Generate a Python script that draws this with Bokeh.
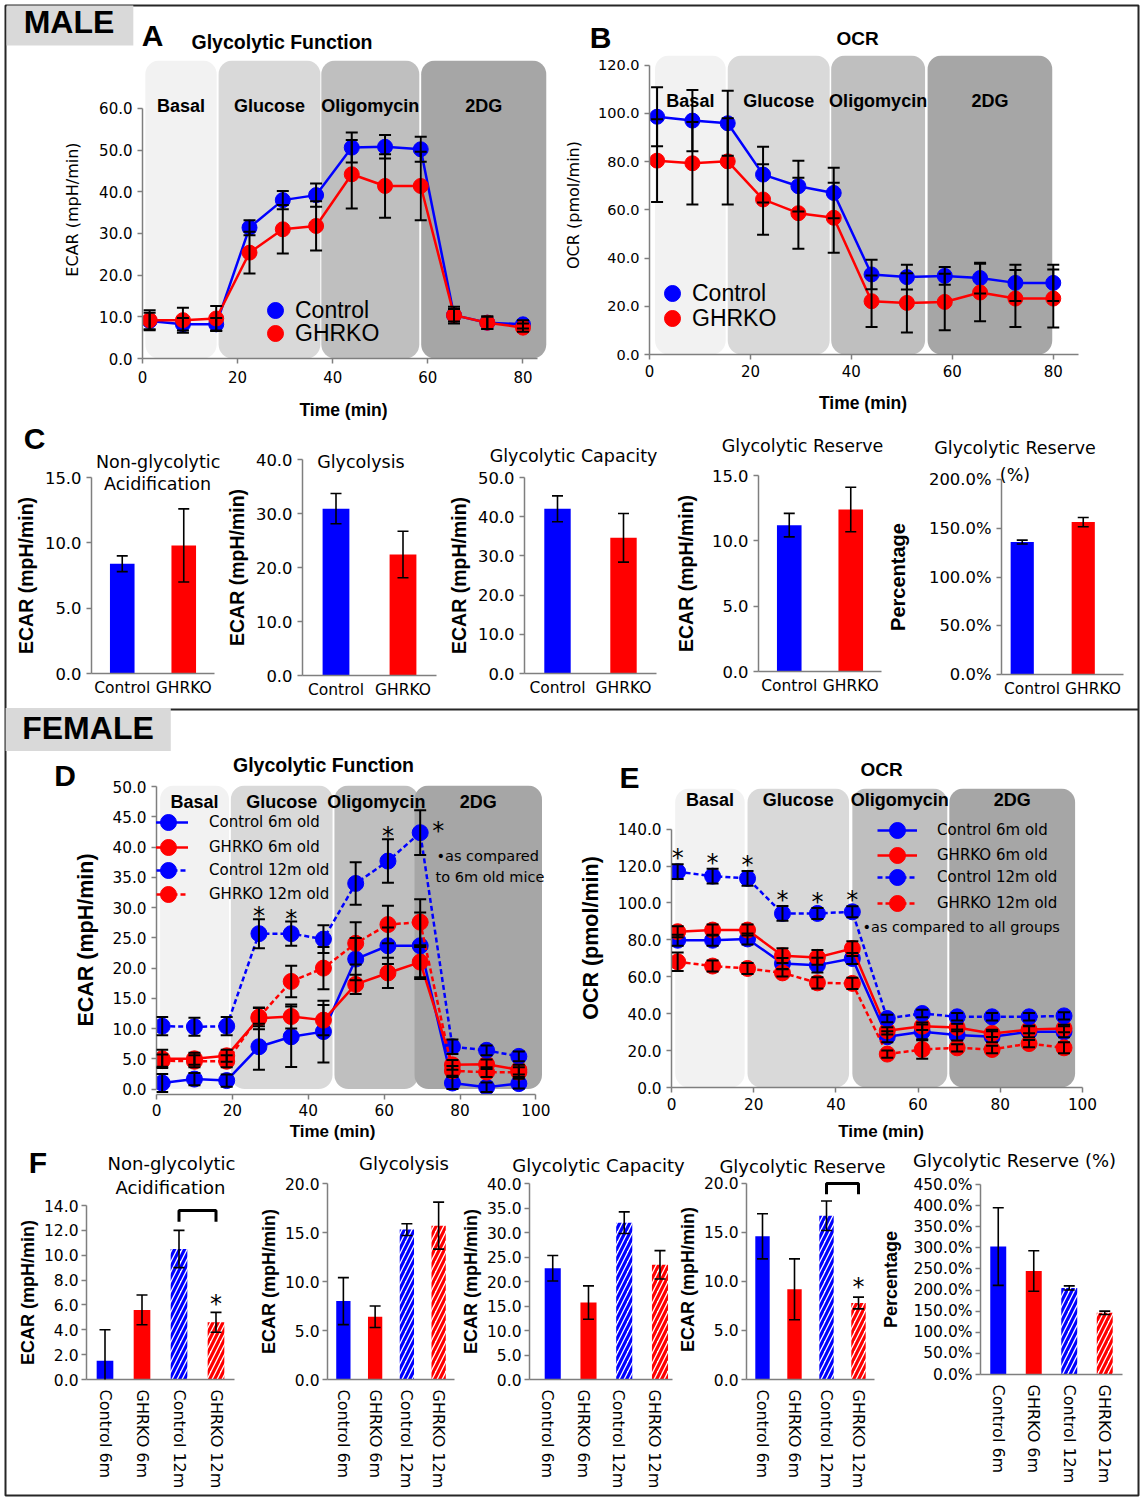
from bokeh.plotting import figure
from bokeh.layouts import row, column
from bokeh.models import (ColumnDataSource, Whisker, TeeHead, Label, Legend, LegendItem,
                          FactorRange, Range1d, FixedTicker, NumeralTickFormatter,
                          PrintfTickFormatter, Span)
from bokeh.transform import dodge
from bokeh.core.properties import value
from bokeh.embed import file_html
from bokeh.resources import INLINE

# ---------------- data ----------------
phases = ["Basal", "Glucose", "Oligomycin", "2DG"]

# MALE  - panel A (ECAR) and B (OCR)
male_time = [1.5, 8.5, 15.5, 22.5, 29.5, 36.5, 44.0, 51.0, 58.5, 65.5, 72.5, 80.0]
male_ecar_control = [9.0, 8.2, 8.2, 31.4, 38.0, 39.2, 50.6, 50.8, 50.2, 10.4, 8.6, 8.2]
male_ecar_control_err = [2.0, 1.5, 1.5, 1.8, 2.2, 2.8, 3.6, 2.8, 3.0, 1.5, 1.5, 1.0]
male_ecar_ghrko = [9.2, 9.2, 9.6, 25.4, 31.0, 31.8, 44.2, 41.4, 41.4, 10.4, 8.6, 7.4]
male_ecar_ghrko_err = [2.4, 3.0, 3.0, 5.0, 5.8, 5.9, 8.2, 7.6, 8.2, 2.0, 1.5, 1.0]
male_ocr_control = [98.6, 97.0, 95.9, 74.6, 69.8, 67.0, 33.2, 32.1, 32.6, 31.7, 29.7, 29.7]
male_ocr_control_err = [12.2, 12.7, 13.5, 11.6, 10.5, 10.5, 6.1, 5.1, 3.7, 6.4, 7.5, 7.5]
male_ocr_ghrko = [80.4, 79.3, 80.1, 64.3, 58.6, 56.7, 22.1, 21.4, 21.8, 25.7, 23.2, 23.2]
male_ocr_ghrko_err = [17.2, 17.1, 17.9, 14.6, 14.7, 14.5, 10.7, 12.3, 11.7, 11.9, 11.8, 12.0]
male_ecar_phase_start = [0.6, 16.0, 37.6, 58.6]
male_ecar_phase_end = [15.6, 37.4, 58.2, 84.9]
male_ocr_phase_start = [1.1, 15.5, 36.0, 55.1]
male_ocr_phase_end = [15.1, 35.7, 54.6, 79.8]

# MALE - panel C
c_groups = ["Control", "GHRKO"]
c_nonglyco = [8.4, 9.8]
c_nonglyco_err = [0.6, 2.8]
c_glycolysis = [30.9, 22.4]
c_glycolysis_err = [2.8, 4.3]
c_capacity = [42.0, 34.6]
c_capacity_err = [3.3, 6.2]
c_reserve = [11.2, 12.4]
c_reserve_err = [0.9, 1.7]
c_reserve_pct = [135.8, 156.3]
c_reserve_pct_err = [2.0, 4.7]

# FEMALE - panel D (ECAR) and E (OCR)
female_time = [1.5, 10.0, 18.5, 27.0, 35.5, 44.0, 52.5, 61.0, 69.5, 78.0, 87.0, 95.5]
fe_ctrl6 = [1.0, 1.65, 1.4, 7.0, 8.65, 9.5, 21.5, 23.7, 23.7, 1.0, 0.3, 0.9]
fe_ctrl6_err = [1.5, 1.0, 1.0, 3.8, 5.0, 5.1, 3.5, 3.0, 5.5, 1.0, 0.8, 0.8]
fe_ghrko6 = [5.0, 5.0, 5.5, 11.7, 12.0, 11.4, 17.3, 19.2, 21.0, 4.0, 4.1, 3.2]
fe_ghrko6_err = [1.5, 1.0, 1.0, 1.8, 2.0, 2.5, 1.6, 2.5, 2.5, 0.8, 0.8, 0.8]
fe_ctrl12 = [10.4, 10.3, 10.4, 25.7, 25.7, 24.8, 34.0, 37.7, 42.4, 7.0, 6.4, 5.4]
fe_ctrl12_err = [1.5, 1.5, 1.5, 2.4, 2.0, 2.3, 3.5, 3.6, 3.7, 1.2, 0.8, 0.8]
fe_ghrko12 = [4.7, 4.6, 4.6, 11.9, 17.8, 20.0, 24.1, 27.2, 27.6, 3.0, 2.8, 2.8]
fe_ghrko12_err = [1.0, 1.0, 1.0, 1.5, 2.6, 3.5, 3.5, 3.1, 3.8, 0.8, 0.8, 0.8]
fe_ctrl12_star_above = [3, 4, 7]
fe_ctrl12_star_right = [8]

fo_ctrl6 = [79.8, 79.8, 80.5, 67.2, 66.3, 69.9, 27.5, 30.2, 28.4, 27.5, 30.2, 30.2]
fo_ctrl6_err = [3, 3, 3, 3, 4, 3, 3, 4, 3, 3, 3, 3]
fo_ghrko6 = [84.4, 85.3, 85.3, 71.4, 70.5, 75.3, 30.7, 33.2, 32.5, 29.3, 31.4, 32.0]
fo_ghrko6_err = [3, 3, 3, 4, 4, 4, 2, 2, 2, 2, 2, 2]
fo_ctrl12 = [116.9, 114.5, 113.3, 94.3, 94.3, 95.2, 37.4, 40.1, 38.3, 38.3, 38.3, 38.8]
fo_ctrl12_err = [4, 4, 4, 4, 3, 3, 2, 2, 2, 2, 2, 2]
fo_ghrko12 = [68.1, 65.8, 64.5, 62.1, 56.7, 56.4, 18.1, 20.6, 21.5, 20.6, 23.8, 21.5]
fo_ghrko12_err = [5, 3, 3, 2, 3, 3, 2, 5, 2, 2, 2, 3]
fo_ctrl12_star_above = [0, 1, 2, 3, 4, 5]

female_ecar_phase_start = [0.95, 19.6, 46.9, 68.0]
female_ecar_phase_end = [19.1, 46.4, 69.0, 101.6]
female_ocr_phase_start = [0.9, 18.5, 44.0, 67.6]
female_ocr_phase_end = [17.8, 43.2, 67.1, 98.2]

# FEMALE - panel F
f_groups = ["Control 6m", "GHRKO 6m", "Control 12m", "GHRKO 12m"]
f_nonglyco = [1.5, 5.6, 10.5, 4.6]
f_nonglyco_err = [2.5, 1.2, 1.5, 0.8]
f_glycolysis = [8.0, 6.4, 15.3, 15.7]
f_glycolysis_err = [2.4, 1.1, 0.6, 2.4]
f_capacity = [22.7, 15.7, 32.0, 23.4]
f_capacity_err = [2.6, 3.4, 2.2, 2.9]
f_reserve = [14.6, 9.2, 16.7, 7.8]
f_reserve_err = [2.3, 3.1, 1.5, 0.6]
f_reserve_pct = [303.0, 245.0, 205.0, 146.0]
f_reserve_pct_err = [92.0, 48.0, 5.0, 4.0]

# ---------------- style ----------------
SANS = "DejaVu Sans"
ARIAL = "Liberation Sans"
BLUE = "#0000ff"
RED = "#ff0000"
AXIS = "#7f7f7f"
FRAME = "#262626"
PHASE_FILL = ["#f2f2f2", "#d9d9d9", "#bfbfbf", "#a6a6a6"]
C_COLORS = [BLUE, RED]
C_PATTERNS = [" ", " "]
F_COLORS = [BLUE, RED, BLUE, RED]
F_PATTERNS = [" ", " ", "/", "/"]


def make_fig(w, h, l, r, t, b, xr, yr):
    p = figure(width=w, height=h, x_range=xr, y_range=yr, output_backend="svg",
               toolbar_location=None, tools="", frame_align=False,
               min_border_left=l, min_border_right=r, min_border_top=t, min_border_bottom=b)
    p.outline_line_color = None
    p.xgrid.visible = False
    p.ygrid.visible = False
    p.background_fill_color = "white"
    p.border_fill_color = "white"
    return p


def style_axis(ax, tick_px, label_px=16, bold=True, font=ARIAL, standoff=5, label_standoff=5):
    ax.axis_line_color = AXIS
    ax.axis_line_width = 1.5
    ax.major_tick_line_color = AXIS
    ax.major_tick_line_width = 1.5
    ax.major_tick_in = 0
    ax.major_tick_out = 5
    ax.minor_tick_line_color = None
    ax.major_label_text_font = SANS
    ax.major_label_text_font_size = f"{tick_px}px"
    ax.major_label_text_color = "black"
    ax.major_label_standoff = standoff
    ax.axis_label_text_font = font
    ax.axis_label_text_font_size = f"{label_px}px"
    ax.axis_label_text_font_style = "bold" if bold else "normal"
    ax.axis_label_text_color = "black"
    ax.axis_label_standoff = label_standoff


def timecourse(w, h, l, r, t, b, xmax, xbound, ymin, ymax, ybound, xticks, yticks,
               starts, ends, label_y):
    p = make_fig(w, h, l, r, t, b, Range1d(0, xmax), Range1d(ymin, ymax))
    src = ColumnDataSource(dict(left=starts, right=ends, bottom=[0] * len(starts),
                                top=[ymax] * len(starts), color=PHASE_FILL))
    p.quad(left="left", right="right", bottom="bottom", top="top", fill_color="color",
           line_color=None, border_radius=14, source=src)
    centers = [(a + c) / 2 for a, c in zip(starts, ends)]
    p.text(x=centers, y=[label_y] * len(centers), text=phases, text_font=value(ARIAL),
           text_font_style=value("bold"), text_font_size="18px", text_align=value("center"),
           text_baseline=value("middle"), text_color="black")
    p.xaxis.ticker = FixedTicker(ticks=xticks)
    p.yaxis.ticker = FixedTicker(ticks=yticks)
    p.yaxis.formatter = NumeralTickFormatter(format="0.0")
    p.xaxis.bounds = (0, xbound)
    p.yaxis.bounds = (0, ybound)
    return p


def series(p, t, y, err, color, dash, size, lw=2.5):
    src = ColumnDataSource(dict(t=t, y=y,
                                hi=[v + e for v, e in zip(y, err)],
                                lo=[v - e for v, e in zip(y, err)]))
    ln = p.line("t", "y", source=src, line_color=color, line_width=lw, line_dash=dash)
    sc = p.scatter("t", "y", source=src, size=size, fill_color=color, line_color=color)
    return src, ln, sc


def whiskers(p, src, base, lw=2.0, cap=12):
    p.add_layout(Whisker(base=base, upper="hi", lower="lo", source=src, line_color="black",
                         line_width=lw, level="annotation",
                         upper_head=TeeHead(size=cap, line_width=lw, line_color="black"),
                         lower_head=TeeHead(size=cap, line_width=lw, line_color="black")))


def legend_item(p, text, renderers, loc, standoff, font, px):
    # one legend per entry so that the rows can sit closer than the glyph box
    p.add_layout(Legend(items=[LegendItem(label=text, renderers=renderers)],
                        location=loc, orientation="vertical", glyph_width=40, glyph_height=40,
                        spacing=0, label_standoff=standoff, label_height=20,
                        label_text_font=font, label_text_font_size=f"{px}px",
                        label_text_color="black", padding=0, margin=0,
                        border_line_color=None, background_fill_alpha=0))


def stars(p, xs, ys, yoff, xoff=0, baseline="alphabetic"):
    p.text(x=xs, y=ys, text=["*"] * len(xs), text_font=value(SANS), text_font_size="24px",
           text_align=value("center"), text_baseline=value(baseline), x_offset=xoff,
           y_offset=yoff, text_color="black")


def bar_panel(w, h, l, r, t, b, cats, vals, errs, colors, patterns, ytop, ybound, yticks,
              ylabel, fmt, tick_px, cat_px, ylab_px, vertical=False, bar_w=0.42,
              tick_standoff=5, lab_standoff=5, cat_standoff=5, shift=0.0):
    p = make_fig(w, h, l, r, t, b, FactorRange(factors=cats), Range1d(0, ytop))
    src = ColumnDataSource(dict(x=cats, top=vals,
                                hi=[v + e for v, e in zip(vals, errs)],
                                lo=[v - e for v, e in zip(vals, errs)],
                                fill=["white" if pt != " " else c for c, pt in zip(colors, patterns)],
                                hc=colors, pat=patterns))
    xs = dodge("x", shift, range=p.x_range) if shift else "x"
    p.vbar(x=xs, top="top", bottom=0, width=bar_w, source=src, fill_color="fill",
           line_color=None, hatch_pattern="pat", hatch_color="hc", hatch_weight=3.2,
           hatch_scale=10)
    whiskers(p, src, xs, lw=1.6, cap=11)
    style_axis(p.yaxis[0], tick_px, ylab_px, True, ARIAL, tick_standoff, lab_standoff)
    p.yaxis.axis_label = ylabel
    p.yaxis.ticker = FixedTicker(ticks=yticks)
    p.yaxis.formatter = fmt
    p.yaxis.bounds = (0, ybound)
    style_axis(p.xaxis[0], cat_px, standoff=cat_standoff)
    p.xaxis.major_tick_line_color = None
    p.xaxis.major_tick_out = 0
    if vertical:
        p.xaxis.major_label_orientation = "vertical"
    return src, p


num1 = NumeralTickFormatter(format="0.0")
pct = PrintfTickFormatter(format="%.1f%%")
ECAR = "ECAR (mpH/min)"

# ================= MALE =================
# ---- A ----
pA = timecourse(560, 425, 142, 9, 60, 67, 86, 83, 0, 71.5, 60, [0, 20, 40, 60, 80],
                [0, 10, 20, 30, 40, 50, 60], male_ecar_phase_start, male_ecar_phase_end, 60.7)
sA1, _, scA1 = series(pA, male_time, male_ecar_control, male_ecar_control_err, BLUE, "solid", 15)
sA2, _, scA2 = series(pA, male_time, male_ecar_ghrko, male_ecar_ghrko_err, RED, "solid", 15)
whiskers(pA, sA1, "t")
whiskers(pA, sA2, "t")
style_axis(pA.xaxis[0], 15, standoff=7)
style_axis(pA.yaxis[0], 15, 16, False, SANS, 5, 14)
pA.yaxis.axis_label = ECAR
legend_item(pA, "Control", [scA1], (113, 28), 0, ARIAL, 23)
legend_item(pA, "GHRKO", [scA2], (113, 5), 0, ARIAL, 23)

# ---- B ----
pB = timecourse(583, 425, 85, 65, 55, 71, 85, 85, 0, 124, 120, [0, 20, 40, 60, 80],
                [0, 20, 40, 60, 80, 100, 120], male_ocr_phase_start, male_ocr_phase_end, 105.2)
sB1, _, scB1 = series(pB, male_time, male_ocr_control, male_ocr_control_err, BLUE, "solid", 15)
sB2, _, scB2 = series(pB, male_time, male_ocr_ghrko, male_ocr_ghrko_err, RED, "solid", 15)
whiskers(pB, sB1, "t")
whiskers(pB, sB2, "t")
style_axis(pB.xaxis[0], 15)
style_axis(pB.yaxis[0], 14.5, 16, False, SANS, 5, 12)
pB.yaxis.axis_label = "OCR (pmol/min)"
legend_item(pB, "Control", [scB1], (3, 41), 0, ARIAL, 23)
legend_item(pB, "GHRKO", [scB2], (3, 16), 0, ARIAL, 23)

# ---- C ----
_, pC1 = bar_panel(222, 291, 91, 8, 52, 43, c_groups, c_nonglyco, c_nonglyco_err, C_COLORS,
                   C_PATTERNS, 15, 15, [0, 5, 10, 15], ECAR, num1, 16.4, 15.5, 19.5, bar_w=0.4)
_, pC2 = bar_panel(220, 291, 80, 6, 34, 41, c_groups, c_glycolysis, c_glycolysis_err, C_COLORS,
                   C_PATTERNS, 40, 40, [0, 10, 20, 30, 40], ECAR, num1, 16.4, 15.5, 19.5, bar_w=0.4)
_, pC3 = bar_panel(226, 291, 82, 12, 52, 43, c_groups, c_capacity, c_capacity_err, C_COLORS,
                   C_PATTERNS, 50, 50, [0, 10, 20, 30, 40, 50], ECAR, num1, 16.4, 15.5, 19.5,
                   bar_w=0.4)
_, pC4 = bar_panel(216, 291, 90, 3, 50, 45, c_groups, c_reserve, c_reserve_err, C_COLORS,
                   C_PATTERNS, 15, 15, [0, 5, 10, 15], ECAR, num1, 16.4, 15.5, 19.5, bar_w=0.4,
                   lab_standoff=12)
_, pC5 = bar_panel(259, 291, 115, 20, 54, 42, c_groups, c_reserve_pct, c_reserve_pct_err,
                   C_COLORS, C_PATTERNS, 200, 200, [0, 50, 100, 150, 200], "Percentage", pct,
                   16.4, 15.5, 20, bar_w=0.38, lab_standoff=17, shift=-0.16)

# ================= FEMALE =================
# ---- D ----
pD = timecourse(560, 425, 156, 17, 69, 47, 102, 100, -0.9, 50.2, 50,
                [0, 20, 40, 60, 80, 100], [0, 5, 10, 15, 20, 25, 30, 35, 40, 45, 50],
                female_ecar_phase_start, female_ecar_phase_end, 47.5)
sD1, lD1, cD1 = series(pD, female_time, fe_ctrl6, fe_ctrl6_err, BLUE, "solid", 16)
sD2, lD2, cD2 = series(pD, female_time, fe_ghrko6, fe_ghrko6_err, RED, "solid", 16)
sD3, lD3, cD3 = series(pD, female_time, fe_ctrl12, fe_ctrl12_err, BLUE, "5 3", 16)
sD4, lD4, cD4 = series(pD, female_time, fe_ghrko12, fe_ghrko12_err, RED, "5 3", 16)
for s in (sD1, sD2, sD3, sD4):
    whiskers(pD, s, "t")
style_axis(pD.xaxis[0], 15.3, standoff=4)
style_axis(pD.yaxis[0], 15.3, 21.5, True, ARIAL, 5, 11)
pD.yaxis.axis_label = ECAR
stars(pD, [female_time[i] for i in fe_ctrl12_star_above],
      [fe_ctrl12[i] + fe_ctrl12_err[i] for i in fe_ctrl12_star_above], yoff=-3)
stars(pD, [female_time[i] for i in fe_ctrl12_star_right],
      [fe_ctrl12[i] for i in fe_ctrl12_star_right], yoff=-2, xoff=18, baseline="middle")
for (txt, rs), ly in zip([("Control 6m old", [lD1, cD1]), ("GHRKO 6m old", [lD2, cD2]),
                          ("Control 12m old", [lD3, cD3]), ("GHRKO 12m old", [lD4, cD4])],
                         [252, 227, 204, 180]):
    legend_item(pD, txt, rs, (-8, ly), 21, SANS, 15)

# ---- E ----
pE = timecourse(583, 425, 111, 61, 72, 54, 100, 100, 0, 162, 140,
                [0, 20, 40, 60, 80, 100], [0, 20, 40, 60, 80, 100, 120, 140],
                female_ocr_phase_start, female_ocr_phase_end, 155.7)
sE1, lE1, cE1 = series(pE, female_time, fo_ctrl6, fo_ctrl6_err, BLUE, "solid", 16)
sE2, lE2, cE2 = series(pE, female_time, fo_ghrko6, fo_ghrko6_err, RED, "solid", 16)
sE3, lE3, cE3 = series(pE, female_time, fo_ctrl12, fo_ctrl12_err, BLUE, "5 3", 16)
sE4, lE4, cE4 = series(pE, female_time, fo_ghrko12, fo_ghrko12_err, RED, "5 3", 16)
for s in (sE1, sE2, sE3, sE4):
    whiskers(pE, s, "t")
style_axis(pE.xaxis[0], 15.3)
style_axis(pE.yaxis[0], 15.3, 21.5, True, ARIAL, 5, 12)
pE.yaxis.axis_label = "OCR (pmol/min)"
stars(pE, [female_time[i] for i in fo_ctrl12_star_above],
      [fo_ctrl12[i] + fo_ctrl12_err[i] for i in fo_ctrl12_star_above], yoff=-6)
for (txt, rs), ly in zip([("Control 6m old", [lE1, cE1]), ("GHRKO 6m old", [lE2, cE2]),
                          ("Control 12m old", [lE3, cE3]), ("GHRKO 12m old", [lE4, cE4])],
                         [237, 212, 190, 164]):
    legend_item(pE, txt, rs, (206, ly), 20, SANS, 15)

# ---- F ----
fkw = dict(vertical=True, bar_w=0.45, tick_standoff=3, lab_standoff=3, cat_standoff=10)
sF1, pF1 = bar_panel(255, 359, 86, 21, 64, 121, f_groups, f_nonglyco, f_nonglyco_err, F_COLORS,
                     F_PATTERNS, 14, 14, [0, 2, 4, 6, 8, 10, 12, 14], ECAR, num1, 15.5, 16, 18,
                     **fkw)
sF2, pF2 = bar_panel(202, 359, 68, 3, 42, 121, f_groups, f_glycolysis, f_glycolysis_err,
                     F_COLORS, F_PATTERNS, 20, 20, [0, 5, 10, 15, 20], ECAR, num1, 15.5, 16, 18,
                     **fkw)
sF3, pF3 = bar_panel(217, 359, 70, 2, 42, 121, f_groups, f_capacity, f_capacity_err, F_COLORS,
                     F_PATTERNS, 40, 40, [0, 5, 10, 15, 20, 25, 30, 35, 40], ECAR, num1, 15.5,
                     16, 18, shift=0.15, **fkw)
sF4, pF4 = bar_panel(204, 359, 69, 4, 38, 121, f_groups, f_reserve, f_reserve_err, F_COLORS,
                     F_PATTERNS, 20.4, 20, [0, 5, 10, 15, 20], ECAR, num1, 15.5, 16, 18, **fkw)
fkw5 = dict(fkw, lab_standoff=9)
sF5, pF5 = bar_panel(265, 359, 98, 21, 43, 126, f_groups, f_reserve_pct, f_reserve_pct_err,
                     F_COLORS, F_PATTERNS, 450, 450,
                     [0, 50, 100, 150, 200, 250, 300, 350, 400, 450], "Percentage", pct, 15.5,
                     16, 18, **fkw5)

# significance brackets and asterisks (Control 12m vs GHRKO 12m)
for p_, top_, leg_ in ((pF1, 13.6, 12.7), (pF4, 20.0, 18.9)):
    p_.line(x=[f_groups[2], f_groups[2], f_groups[3], f_groups[3]],
            y=[leg_, top_, top_, leg_], line_color="black", line_width=3)
stars(pF1, [f_groups[3]], [f_nonglyco[3] + f_nonglyco_err[3]], yoff=-8)
stars(pF4, [f_groups[3]], [f_reserve[3] + f_reserve_err[3]], yoff=-10)

# ================= overlay: frame lines, titles, panel letters, headers =================
ov = figure(width=1143, height=1500, x_range=Range1d(5, 1138), y_range=Range1d(1495, 5),
            output_backend="svg", toolbar_location=None, tools="", x_axis_location=None,
            y_axis_location=None, min_border_left=5, min_border_right=5, min_border_top=5,
            min_border_bottom=5, frame_align=False,
            styles={"position": "absolute", "left": "0px", "top": "0px", "z-index": "10"})
ov.xgrid.visible = False
ov.ygrid.visible = False
ov.outline_line_color = FRAME
ov.outline_line_width = 2
ov.background_fill_alpha = 0
ov.border_fill_alpha = 0
ov.add_layout(Span(location=709, dimension="width", line_color=FRAME, line_width=2))


def olabel(x, y, text, px, bold=False, font=SANS, align="center", **kw):
    ov.add_layout(Label(x=x, y=y, text=text, text_font=font, text_font_size=f"{px}px",
                        text_font_style="bold" if bold else "normal", text_align=align,
                        text_baseline="middle", text_color="black", **kw))


olabel(69.5, 24, "MALE", 32, True, ARIAL, background_fill_color="#d9d9d9",
       padding=dict(left=17, right=19, top=0, bottom=6))
olabel(152, 35, "A", 30, True, ARIAL)
olabel(281.5, 41.5, "Glycolytic Function", 19.5, True, ARIAL)
olabel(343, 409, "Time (min)", 17.5, True, ARIAL)
olabel(600, 37, "B", 30, True, ARIAL)
olabel(857, 38, "OCR", 19, True, ARIAL)
olabel(862.5, 402, "Time (min)", 17.5, True, ARIAL)

olabel(34, 438, "C", 30, True, ARIAL)
olabel(157.6, 461, "Non-glycolytic", 17.5)
olabel(157, 483, "Acidification", 17.5)
olabel(360.4, 461.5, "Glycolysis", 17.5)
olabel(573, 455, "Glycolytic Capacity", 17.5)
olabel(802, 445, "Glycolytic Reserve", 17.5)
olabel(1014.5, 447, "Glycolytic Reserve", 17.5)
olabel(1014.5, 474, "(%)", 17.5)

olabel(87.5, 729, "FEMALE", 32, True, ARIAL, background_fill_color="#d9d9d9",
       padding=dict(left=17, right=17, top=2, bottom=5))
olabel(64.5, 775, "D", 30, True, ARIAL)
olabel(323, 764, "Glycolytic Function", 19.5, True, ARIAL)
olabel(332, 1131, "Time (min)", 17, True, ARIAL)
olabel(436, 855, "\u2022as compared", 14.5, align="left")
olabel(435, 876, "to 6m old mice", 14.5, align="left")
olabel(629, 776.7, "E", 30, True, ARIAL)
olabel(881, 769, "OCR", 19, True, ARIAL)
olabel(880.6, 1131, "Time (min)", 17, True, ARIAL)
olabel(862, 926, "\u2022as compared to all groups", 14.5, align="left")

olabel(37.5, 1161.7, "F", 30, True, ARIAL)
olabel(171, 1163, "Non-glycolytic", 18)
olabel(170, 1187, "Acidification", 18)
olabel(403.5, 1163, "Glycolysis", 18)
olabel(598, 1165, "Glycolytic Capacity", 18)
olabel(802, 1166, "Glycolytic Reserve", 18)
olabel(1014, 1160, "Glycolytic Reserve (%)", 18)

male = column(row(pA, pB), row(pC1, pC2, pC3, pC4, pC5))
female = column(row(pD, pE), row(pF1, pF2, pF3, pF4, pF5))
root = column(male, female, ov, styles={"position": "relative"})

open("out.html", "w").write(file_html(root, INLINE))
